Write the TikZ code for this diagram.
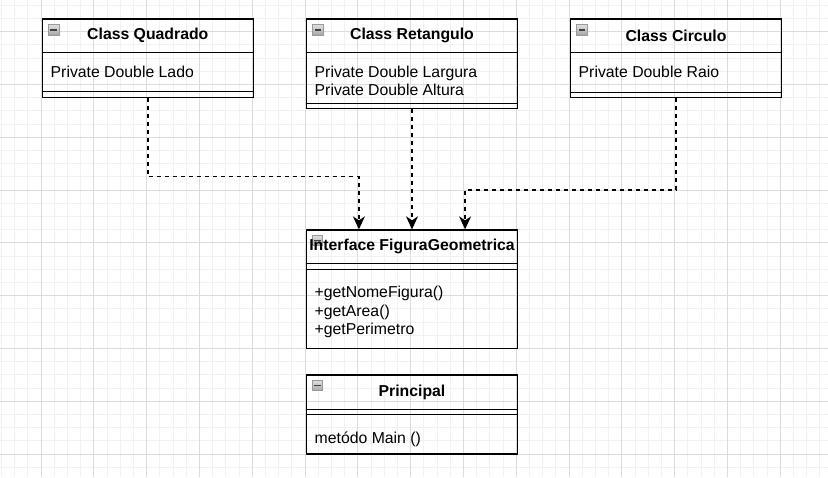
\documentclass[tikz,border=0pt]{standalone}
\usepackage{fontspec}
\setmainfont{Liberation Sans}
\usetikzlibrary{arrows.meta,calc}

\definecolor{gridminor}{rgb}{0.945,0.945,0.945}
\definecolor{gridmajor}{rgb}{0.862,0.862,0.862}

\tikzset{
  classbox/.style={draw=black, line width=1.3pt, rectangle, inner sep=0pt},
  classline/.style={draw=black, line width=1.3pt},
  classtitle/.style={font=\fontsize{15.8}{18.3}\selectfont\bfseries, inner sep=0pt},
  classtext/.style={font=\fontsize{15.8}{18.3}\selectfont, align=left, anchor=west, inner sep=0pt},
  minusicon/.style={draw=black!40, line width=0.6pt, top color=black!12, bottom color=black!35,
    minimum size=10.5pt, inner sep=0pt,
    path picture={\fill[black!75] ([xshift=1.8pt,yshift=-0.8pt]path picture bounding box.west)
      rectangle ([xshift=-1.8pt,yshift=0.8pt]path picture bounding box.east);}},
  depline/.style={line width=1.4pt, dash pattern=on 4pt off 4pt,
    -{Stealth[length=13pt,width=12pt,inset=4pt]}}
}

\begin{document}
\begin{tikzpicture}[x=1pt,y=-1pt]
  \useasboundingbox (0,0) rectangle (828,477);
  \fill[white] (0,0) rectangle (828,477);

  % Drawing grid
  \foreach \i in {0,...,62}
    \draw[gridminor, line width=1pt] ({1.4+13.2*\i},0) -- ({1.4+13.2*\i},477);
  \foreach \j in {0,...,35}
    \draw[gridminor, line width=1pt] (0,{5.3+13.2*\j}) -- (828,{5.3+13.2*\j});
  \foreach \i in {0,...,14}
    \draw[gridmajor, line width=1pt] ({41+52.8*\i},0) -- ({41+52.8*\i},477);
  \foreach \j in {-2,...,6}
    \draw[gridmajor, line width=1pt] (0,{137.3+52.8*\j}) -- (828,{137.3+52.8*\j});

  % Drawing class Quadrado
  \node[classbox, minimum width=211pt, minimum height=78.3pt] (quadrado) at (147.8,58.15) {};
  \draw[classline] (42.3,52.7) -- (253.3,52.7);
  \draw[classline] (42.3,91.3) -- (253.3,91.3);
  \node[minusicon] (quadicon) at (53.8,29.7) {};
  \node[classtitle] (quadtitle) at (147.8,35.8) {Class Quadrado};
  \node[classtext] (quadattr) at (50.5,71.7) {Private Double Lado};

  % Drawing class Retangulo
  \node[classbox, minimum width=211pt, minimum height=89.7pt] (retangulo) at (412,63.85) {};
  \draw[classline] (306.5,52.7) -- (517.5,52.7);
  \draw[classline] (306.5,103.3) -- (517.5,103.3);
  \node[minusicon] (reticon) at (318,29.7) {};
  \node[classtitle] (rettitle) at (412,35.8) {Class Retangulo};
  \node[classtext] (retattr) at (314.5,80.85) {Private Double Largura\\Private Double Altura};

  % Drawing class Circulo
  \node[classbox, minimum width=211pt, minimum height=78.7pt] (circulo) at (676,58.35) {};
  \draw[classline] (570.5,52.7) -- (781.5,52.7);
  \draw[classline] (570.5,92.3) -- (781.5,92.3);
  \node[minusicon] (circicon) at (582,29.7) {};
  \node[classtitle] (circtitle) at (676,35.8) {Class Circulo};
  \node[classtext] (circattr) at (578.5,71.7) {Private Double Raio};

  % Drawing interface FiguraGeometrica
  \node[classbox, minimum width=211pt, minimum height=118.3pt] (figura) at (412,289.15) {};
  \draw[classline] (306.5,263.3) -- (517.5,263.3);
  \draw[classline] (306.5,269.3) -- (517.5,269.3);
  \node[minusicon] (figicon) at (317.5,240.5) {};
  \node[classtitle] (figtitle) at (412,246.7) {Interface FiguraGeometrica};
  \node[classtext] (figmeth) at (314.5,312) {+getNomeFigura()\\+getArea()\\+getPerimetro};

  % Drawing class Principal
  \node[classbox, minimum width=211pt, minimum height=79pt] (principal) at (412,414.5) {};
  \draw[classline] (306.5,409.3) -- (517.5,409.3);
  \draw[classline] (306.5,414.7) -- (517.5,414.7);
  \node[minusicon] (princicon) at (317.5,385.5) {};
  \node[classtitle] (princtitle) at (412,392.7) {Principal};
  \node[classtext] (princmeth) at (314.5,439.3) {metódo Main ()};

  % Drawing dependencies
  \coordinate (quadbend) at (147.8,176.7);
  \coordinate (quadin) at ($(figura.north west)!0.5!(figura.north)$);
  \draw[depline] (quadrado.south) -- (quadbend) -| (quadin);
  \draw[depline] (retangulo.south) -- (figura.north);
  \coordinate (circbend) at (676,190);
  \coordinate (circin) at ($(figura.north)!0.5!(figura.north east)$);
  \draw[depline] (circulo.south) -- (circbend) -| (circin);
\end{tikzpicture}
\end{document}
